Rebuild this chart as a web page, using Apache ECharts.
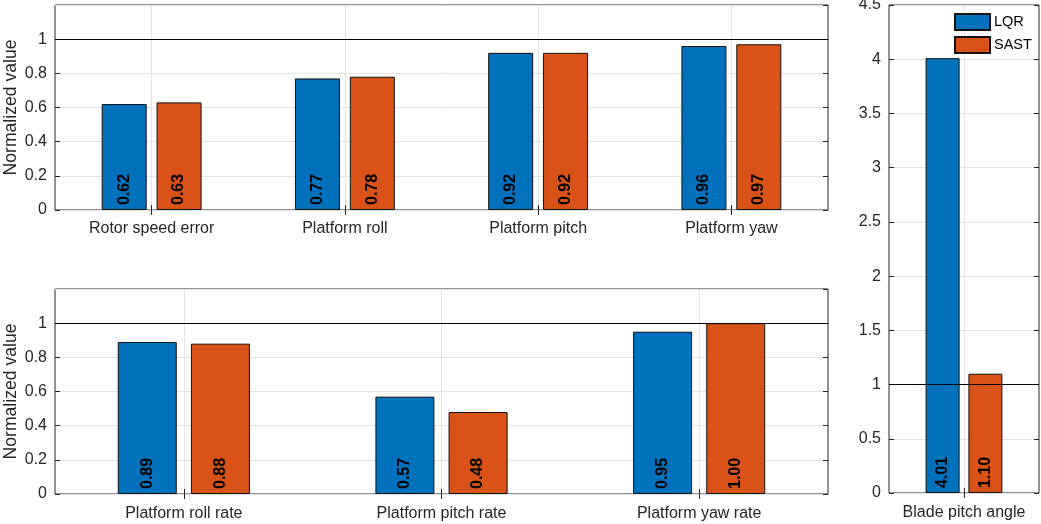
<!DOCTYPE html>
<html>
<head>
<meta charset="utf-8">
<script src="https://cdn.jsdelivr.net/npm/echarts@6/dist/echarts.min.js"></script>
<style>
html,body{margin:0;padding:0;background:#fff;}
#chart{width:1041px;height:524px;}
</style>
</head>
<body>
<div id="chart"></div>
<script>
// ---- data ----
const seriesNames = ['LQR', 'SAST'];
const topCategories = ['Rotor speed error', 'Platform roll', 'Platform pitch', 'Platform yaw'];
const topLQR = [0.62, 0.77, 0.92, 0.96];
const topSAST = [0.63, 0.78, 0.92, 0.97];
const bottomCategories = ['Platform roll rate', 'Platform pitch rate', 'Platform yaw rate'];
const bottomLQR = [0.89, 0.57, 0.95];
const bottomSAST = [0.88, 0.48, 1.00];
const rightCategories = ['Blade pitch angle'];
const rightLQR = [4.01];
const rightSAST = [1.10];
const referenceValue = 1;

// ---- style ----
const FONT = 'Liberation Sans, Arial, Helvetica, sans-serif';
const TXT = '#262626';
const BLUE = '#0072BD';
const ORANGE = '#D95319';
const GRIDC = '#e3e3e3';

const chart = echarts.init(document.getElementById('chart'));

const grids = [
  {left: 55, top: 5, width: 773, height: 205},
  {left: 55, top: 289, width: 773, height: 205},
  {left: 889, top: 5, width: 150, height: 488}
];

function fmtY(v) { return String(Math.round(v * 10) / 10); }

const xAxes = [];
const yAxes = [];
const cats = [topCategories, bottomCategories, rightCategories];
const yCfg = [
  {max: 1.2, interval: 0.2, hideMax: true, name: 'Normalized value'},
  {max: 1.2, interval: 0.2, hideMax: true, name: 'Normalized value'},
  {max: 4.5, interval: 0.5, hideMax: false, name: ''}
];
const xMargin = [11, 12, 12];

cats.forEach((c, i) => {
  xAxes.push({
    type: 'category', gridIndex: i, data: c, position: 'bottom',
    axisLine: {show: false},
    axisTick: {show: true, inside: true, alignWithLabel: true, length: 5, lineStyle: {color: TXT}},
    splitLine: {show: true, alignWithLabel: true, lineStyle: {color: GRIDC, width: 1}},
    axisLabel: {fontFamily: FONT, fontSize: 16, color: TXT, margin: xMargin[i]}
  });
  xAxes.push({
    type: 'category', gridIndex: i, data: c, position: 'top',
    axisLine: {show: false},
    axisTick: {show: true, inside: true, alignWithLabel: true, length: 5, lineStyle: {color: TXT}},
    splitLine: {show: false},
    axisLabel: {show: false}
  });
  const y = yCfg[i];
  yAxes.push({
    type: 'value', gridIndex: i, min: 0, max: y.max, interval: y.interval, position: 'left',
    name: y.name, nameLocation: 'middle', nameGap: 35, nameMoveOverlap: false,
    nameTextStyle: {fontFamily: FONT, fontSize: 17.6, color: TXT},
    axisLine: {show: false},
    axisTick: {show: true, inside: true, length: 5, lineStyle: {color: TXT}},
    splitLine: {show: true, lineStyle: {color: GRIDC, width: 1}},
    axisLabel: {
      fontFamily: FONT, fontSize: 16, color: TXT, margin: 8,
      showMaxLabel: !y.hideMax,
      formatter: fmtY
    }
  });
  yAxes.push({
    type: 'value', gridIndex: i, min: 0, max: y.max, interval: y.interval, position: 'right',
    axisLine: {show: false},
    axisTick: {show: true, inside: true, length: 5, lineStyle: {color: TXT}},
    splitLine: {show: false},
    axisLabel: {show: false}
  });
});

const barW = [45, 59, 34];
const barGap = ['22%', '24%', '26%'];
const lqrData = [topLQR, bottomLQR, rightLQR];
const sastData = [topSAST, bottomSAST, rightSAST];

const labelCfg = {
  show: true, position: 'insideBottom', rotate: 90, align: 'left', verticalAlign: 'middle',
  distance: 5, fontFamily: FONT, fontSize: 16, fontWeight: 'bold', color: '#000',
  formatter: p => p.value.toFixed(2)
};

const series = [];
for (let i = 0; i < 3; i++) {
  series.push({
    name: seriesNames[0], type: 'bar', xAxisIndex: i * 2, yAxisIndex: i * 2,
    data: lqrData[i], barWidth: barW[i], barGap: barGap[i],
    itemStyle: {color: BLUE, borderColor: '#111', borderWidth: 1},
    label: labelCfg,
    markLine: {
      silent: true, symbol: 'none', label: {show: false},
      lineStyle: {color: '#000', type: 'solid', width: 1.2},
      emphasis: {disabled: true},
      data: [{yAxis: referenceValue}]
    },
    z: 3
  });
  series.push({
    name: seriesNames[1], type: 'bar', xAxisIndex: i * 2, yAxisIndex: i * 2,
    data: sastData[i], barWidth: barW[i], barGap: barGap[i],
    itemStyle: {color: ORANGE, borderColor: '#111', borderWidth: 1},
    label: labelCfg,
    z: 3
  });
}

chart.setOption({
  animation: false,
  backgroundColor: '#fff',
  textStyle: {fontFamily: FONT},
  grid: grids.map(g => Object.assign({show: true, borderColor: TXT, borderWidth: 1, backgroundColor: 'transparent', containLabel: false, outerBoundsMode: 'none'}, g)),
  legend: {
    data: seriesNames, orient: 'vertical', left: 949, top: 8,
    itemWidth: 35, itemHeight: 16, itemGap: 5,
    icon: 'rect',
    textStyle: {fontFamily: FONT, fontSize: 14.5, color: '#000', padding: [0, 0, 0, -1]},
    selectedMode: false
  },
  xAxis: xAxes,
  yAxis: yAxes,
  series: series
});
</script>
</body>
</html>
